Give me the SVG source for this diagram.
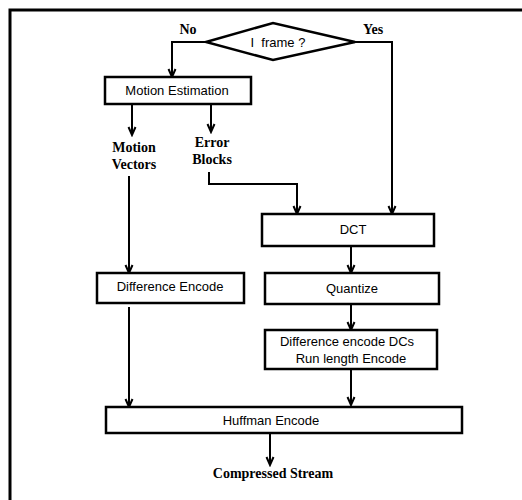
<svg xmlns="http://www.w3.org/2000/svg" width="522" height="500" viewBox="0 0 522 500">
<defs>
<marker id="arr" viewBox="-1 -5 11 10" refX="8" refY="0" markerWidth="11" markerHeight="10" markerUnits="userSpaceOnUse" orient="auto">
<path d="M0,-3.5 L8,0 L0,3.5" fill="none" stroke="#000" stroke-width="2"/>
</marker>
</defs>
<style>
.box{fill:#fff;stroke:#000;stroke-width:2.5}
.t{font-family:"Liberation Sans",Arial,sans-serif;font-size:13px;fill:#000;text-anchor:middle}
.b{font-family:"Liberation Serif","Times New Roman",serif;font-size:14px;font-weight:bold;fill:#000;text-anchor:middle}
.c{fill:none;stroke:#000;stroke-width:2}
</style>
<rect x="0" y="0" width="522" height="500" fill="#fff"/>
<rect id="frame" x="10" y="10" width="540" height="520" fill="none" stroke="#000" stroke-width="3"/>
<g id="connectors">
<polyline class="c" points="206,42 172,42 172,77" marker-end="url(#arr)"/>
<polyline class="c" points="355,42 392,42 392,214" marker-end="url(#arr)"/>
<line class="c" x1="132" y1="104" x2="132" y2="135" marker-end="url(#arr)"/>
<line class="c" x1="211" y1="104" x2="211" y2="132" marker-end="url(#arr)"/>
<line class="c" x1="129" y1="176" x2="129" y2="273" marker-end="url(#arr)"/>
<polyline class="c" points="209,172 209,184 297,184 297,214" marker-end="url(#arr)"/>
<line class="c" x1="351" y1="246" x2="351" y2="273" marker-end="url(#arr)"/>
<line class="c" x1="351" y1="304" x2="351" y2="330" marker-end="url(#arr)"/>
<line class="c" x1="351" y1="369" x2="351" y2="405" marker-end="url(#arr)"/>
<line class="c" x1="129" y1="307" x2="129" y2="407" marker-end="url(#arr)"/>
<line class="c" x1="270" y1="433" x2="270" y2="465" marker-end="url(#arr)"/>
</g>
<g id="iframe">
<polygon points="206,42 273,23 355,42 273,60" fill="#fff" stroke="#000" stroke-width="2.5"/>
<text class="t" x="278" y="47" xml:space="preserve">I  frame ?</text>
</g>
<g id="no"><text class="b" x="188" y="34">No</text></g>
<g id="yes"><text class="b" x="373" y="34">Yes</text></g>
<g id="motion-estimation">
<rect class="box" x="105" y="77" width="146" height="27"/>
<text class="t" x="177" y="95">Motion Estimation</text>
</g>
<g id="motion-vectors">
<text class="b" x="134" y="152">Motion</text>
<text class="b" x="134" y="169">Vectors</text>
</g>
<g id="error-blocks">
<text class="b" x="212" y="147">Error</text>
<text class="b" x="212" y="164">Blocks</text>
</g>
<g id="dct">
<rect class="box" x="262" y="214" width="172" height="32"/>
<text class="t" x="353" y="234">DCT</text>
</g>
<g id="difference-encode">
<rect class="box" x="97" y="273" width="147" height="30"/>
<text class="t" x="170" y="291">Difference Encode</text>
</g>
<g id="quantize">
<rect class="box" x="265" y="273" width="174" height="31"/>
<text class="t" x="352" y="293">Quantize</text>
</g>
<g id="dedc">
<rect class="box" x="265" y="330" width="172" height="39"/>
<text class="t" x="347" y="346">Difference encode DCs</text>
<text class="t" x="351" y="363">Run length Encode</text>
</g>
<g id="huffman">
<rect class="box" x="106" y="407" width="356" height="26"/>
<text class="t" x="271" y="425">Huffman Encode</text>
</g>
<g id="compressed"><text class="b" x="273" y="478">Compressed Stream</text></g>
</svg>
